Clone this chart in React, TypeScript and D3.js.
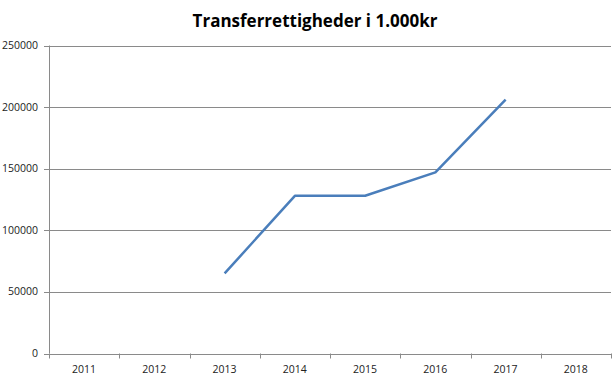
import React from "react";
import * as d3 from "d3";

const years = ["2011", "2012", "2013", "2014", "2015", "2016", "2017", "2018"];
const values: (number | null)[] = [null, null, 65000, 128000, 128000, 147000, 206000, null];
const yTicks = [0, 50000, 100000, 150000, 200000, 250000];
const title = "Transferrettigheder i 1.000kr";

export default function App() {
  const W = 616, H = 382;
  const left = 49, right = 611, top = 45.5, bottom = 353.5;
  const x = d3.scaleBand<string>().domain(years).range([left, right]);
  const y = d3.scaleLinear().domain([0, 250000]).range([bottom, top]);
  const pts = years.map((yr, i) => ({ yr, v: values[i] }));
  const line = d3
    .line<{ yr: string; v: number | null }>()
    .defined((d) => d.v !== null)
    .x((d) => (x(d.yr) as number) + x.bandwidth() / 2)
    .y((d) => y(d.v as number));
  const font = "'Open Sans', 'Liberation Sans', sans-serif";
  return (
    <svg width={W} height={H} style={{ position: "absolute", left: 0, top: 0, background: "#fff" }}>
      <text x={315} y={27} textAnchor="middle" fontFamily={font} fontWeight="bold" fontSize={17} fill="#000">
        {title}
      </text>
      {yTicks.map((t) => (
        <g key={t}>
          <line x1={left - 5} x2={right} y1={Math.round(y(t)) + 0.5} y2={Math.round(y(t)) + 0.5} stroke="#8a8a8a" strokeWidth={1} />
          <text x={38} y={y(t) + 3.5} textAnchor="end" fontFamily={font} fontSize={10.5} fill="#222">
            {t}
          </text>
        </g>
      ))}
      <line x1={left + 0.5} x2={left + 0.5} y1={top} y2={bottom} stroke="#8a8a8a" />
      {years.map((yr) => (
        <line key={"t" + yr} x1={Math.round(x(yr) as number) + 0.5} x2={Math.round(x(yr) as number) + 0.5} y1={bottom} y2={bottom + 5} stroke="#8a8a8a" />
      ))}
      <line x1={right + 0.5} x2={right + 0.5} y1={bottom} y2={bottom + 5} stroke="#8a8a8a" />
      {years.map((yr) => (
        <text key={yr} x={(x(yr) as number) + x.bandwidth() / 2} y={373} textAnchor="middle" fontFamily={font} fontSize={10.5} fill="#222">
          {yr}
        </text>
      ))}
      <path d={line(pts) || ""} fill="none" stroke="#4A7EBB" strokeWidth={2.5} strokeLinejoin="round" />
    </svg>
  );
}
